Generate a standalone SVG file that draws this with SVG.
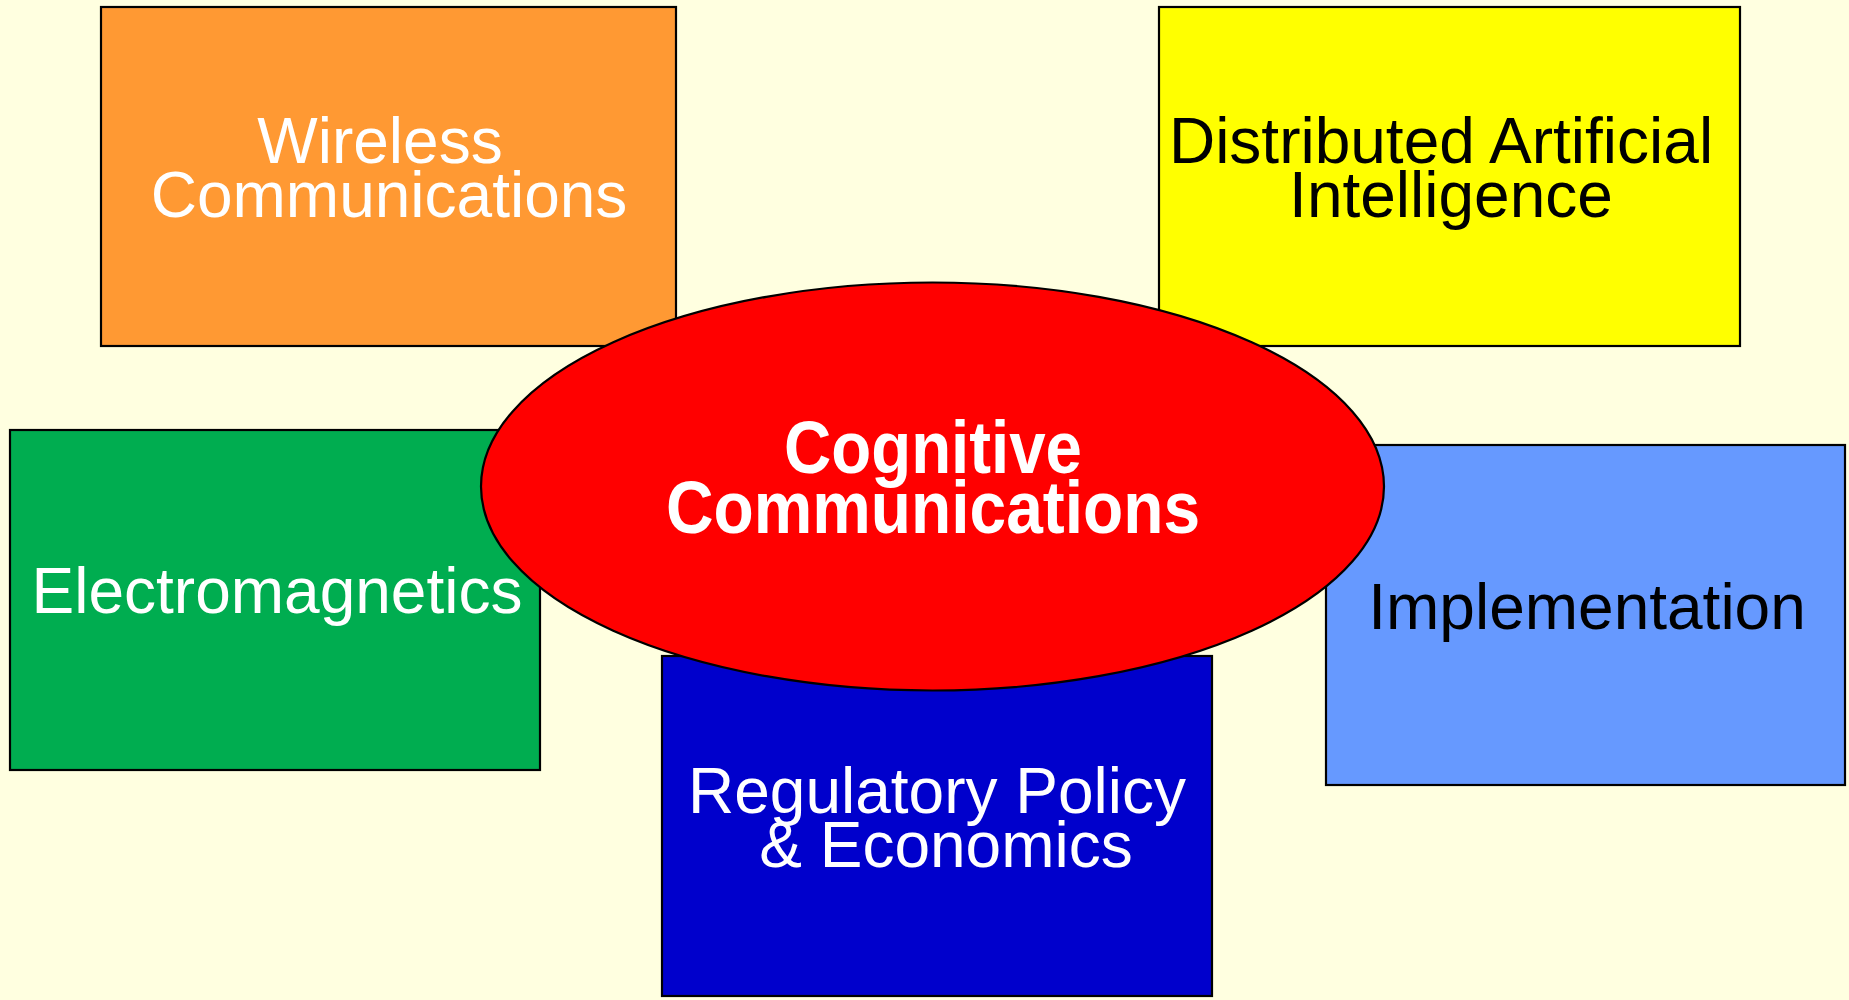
<svg xmlns="http://www.w3.org/2000/svg" width="1849" height="1000" viewBox="0 0 1849 1000">
<style>
.box{stroke:#000;stroke-width:2.2}
.t{font-family:"Liberation Sans",Arial,sans-serif;font-size:64px;text-anchor:middle}
.w{fill:#fff}
.k{fill:#000}
.c{font-family:"Liberation Sans",Arial,sans-serif;font-size:74px;font-weight:bold;text-anchor:middle;fill:#fff}
</style>
<rect x="0" y="0" width="1849" height="1000" fill="#FFFFE0"/>
<g id="connectors"/>
<g id="wireless">
<rect class="box" x="101" y="7" width="575" height="339" fill="#FF9933"/>
<text class="t w" x="380" y="163">Wireless</text>
<text class="t w" x="389" y="217">Communications</text>
</g>
<g id="dai">
<rect class="box" x="1159" y="7" width="581" height="339" fill="#FFFF00"/>
<text class="t k" x="1441" y="163">Distributed Artificial</text>
<text class="t k" x="1451" y="217">Intelligence</text>
</g>
<g id="electromagnetics">
<rect class="box" x="10" y="430" width="530" height="340" fill="#00AD50"/>
<text class="t w" x="277" y="613">Electromagnetics</text>
</g>
<g id="regulatory">
<rect class="box" x="662" y="656" width="550" height="340" fill="#0000CC"/>
<text class="t w" x="937" y="813">Regulatory Policy</text>
<text class="t w" x="946" y="867">&amp; Economics</text>
</g>
<g id="implementation">
<rect class="box" x="1326" y="445" width="519" height="340" fill="#6699FF"/>
<text class="t k" x="1587" y="629">Implementation</text>
</g>
<g id="cognitive">
<ellipse class="box" cx="932.5" cy="486.5" rx="451.5" ry="204" fill="#FF0000"/>
<text class="c" x="933" y="473" textLength="298" lengthAdjust="spacingAndGlyphs">Cognitive</text>
<text class="c" x="933" y="533" textLength="534" lengthAdjust="spacingAndGlyphs">Communications</text>
</g>
</svg>
